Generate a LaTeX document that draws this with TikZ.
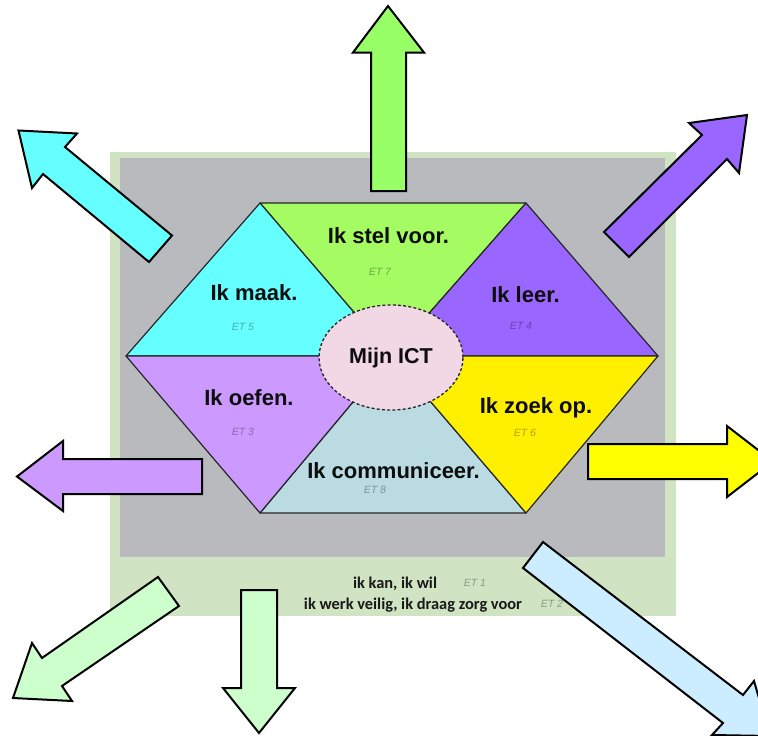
\documentclass[tikz,border=0pt]{standalone}
\usetikzlibrary{shapes.geometric}
\usepackage{fontspec}
\setmainfont{Liberation Sans}
\newfontfamily\calibrifont{Carlito}
\definecolor{pale}{HTML}{D0E4C3}
\definecolor{panel}{HTML}{B9BABD}
\definecolor{cyanfill}{HTML}{66FFFF}
\definecolor{limefill}{HTML}{A4FB62}
\definecolor{violetfill}{HTML}{9966FF}
\definecolor{lilacfill}{HTML}{CC99FF}
\definecolor{bluegrey}{HTML}{B9DBE1}
\definecolor{goldfill}{HTML}{FFF000}
\definecolor{ovalfill}{HTML}{F1D8E4}
\definecolor{mintfill}{HTML}{CCFFCC}
\definecolor{skyfill}{HTML}{CCECFF}
\definecolor{yellowarrow}{HTML}{FFFF00}
\definecolor{limearrow}{HTML}{99FF66}
\tikzset{
  sector/.style={draw=black!85,line width=1.2pt,line join=round},
  bigarrow/.style={draw=black,line width=2pt,miter limit=10},
  head/.style={font=\bfseries\fontsize{22}{24}\selectfont,text=black!95,inner sep=0pt,anchor=base},
  et/.style={font=\itshape\fontsize{10.5}{12}\selectfont,inner sep=0pt,opacity=.32},
  base/.style={font=\calibrifont\bfseries\fontsize{16.4}{18}\selectfont,inner sep=0pt,text=black!90,anchor=base},
}
\begin{document}
\begin{tikzpicture}[x=1pt,y=-1pt]
\useasboundingbox (0,0) rectangle (758,736);
\clip (0,0) rectangle (758,736);
\fill[white] (0,0) rectangle (758,736);
\fill[pale] (110,152) rectangle (676,616);
\fill[panel] (120,158) rectangle (665,557);
\coordinate (c) at (391.5,356);
\coordinate (tl) at (260,203);
\coordinate (tr) at (526,203);
\coordinate (r) at (658,356);
\coordinate (br) at (526,513);
\coordinate (bl) at (260,513);
\coordinate (l) at (126,356);
\filldraw[sector,fill=limefill] (tl) -- (tr) -- (c) -- cycle;
\filldraw[sector,fill=bluegrey] (bl) -- (br) -- (c) -- cycle;
\filldraw[sector,fill=cyanfill] (l) -- (tl) -- (c) -- cycle;
\filldraw[sector,fill=violetfill] (tr) -- (r) -- (c) -- cycle;
\filldraw[sector,fill=lilacfill] (l) -- (c) -- (bl) -- cycle;
\filldraw[sector,fill=goldfill] (r) -- (br) -- (c) -- cycle;
\node[draw=black!85,dash pattern=on 3pt off 2.2pt,line width=1.3pt,fill=ovalfill,ellipse,minimum width=144pt,minimum height=105pt,inner sep=0pt,font=\bfseries\fontsize{21.5}{24}\selectfont,text=black!95] (ict) at (391,357.5) {Mijn ICT};
\node[head] (n1) at (388.5,243) {Ik stel voor.};
\node[head] (n2) at (254,300) {Ik maak.};
\node[head] (n3) at (525.5,302) {Ik leer.};
\node[head] (n4) at (249,405) {Ik oefen.};
\node[head] (n5) at (536,413) {Ik zoek op.};
\node[head] (n6) at (393.5,478) {Ik communiceer.};
\node[et] (e7) at (380,272) {ET 7};
\node[et] (e5) at (243,327) {ET 5};
\node[et] (e4) at (521,326) {ET 4};
\node[et] (e3) at (243,432) {ET 3};
\node[et] (e6) at (525,433) {ET 6};
\node[et] (e8) at (375,490) {ET 8};
\node[base] (b1) at (395,588) {ik kan, ik wil};
\node[base] (b2) at (413,609) {ik werk veilig, ik draag zorg voor};
\node[et] (e1) at (475,583) {ET 1};
\node[et] (e2) at (552,604) {ET 2};
\filldraw[bigarrow,fill=limearrow] (371,191) -- (371,52.5) -- (353,52.5) -- (388,6) -- (424,52.5) -- (406,52.5) -- (406,191) -- cycle;
\filldraw[bigarrow,fill=cyanfill] (172,235.5) -- (149,262) -- (43,174) -- (32,188) -- (18.5,130.5) -- (77,133.5) -- (65,147) -- cycle;
\filldraw[bigarrow,fill=violetfill] (604,232) -- (629,257) -- (727,159) -- (739,173) -- (747,115) -- (689,123) -- (702,135) -- cycle;
\filldraw[bigarrow,fill=lilacfill] (202,459) -- (202,494) -- (63,494) -- (63,511) -- (17,476.5) -- (63,441) -- (63,459) -- cycle;
\filldraw[bigarrow,fill=yellowarrow] (588,444) -- (588,479) -- (727,479) -- (727,497) -- (773,461.5) -- (727,426) -- (727,444) -- cycle;
\filldraw[bigarrow,fill=mintfill] (241,590) -- (277,590) -- (277,688) -- (295,688) -- (259,733) -- (223,688) -- (241,688) -- cycle;
\filldraw[bigarrow,fill=mintfill] (158,577) -- (179,606) -- (62,686) -- (72,701) -- (13,698) -- (32,643) -- (42,658) -- cycle;
\filldraw[bigarrow,fill=skyfill] (523,568) -- (543,542) -- (743,695) -- (754,681) -- (770,736) -- (712,735) -- (723,723) -- cycle;
\end{tikzpicture}
\end{document}
